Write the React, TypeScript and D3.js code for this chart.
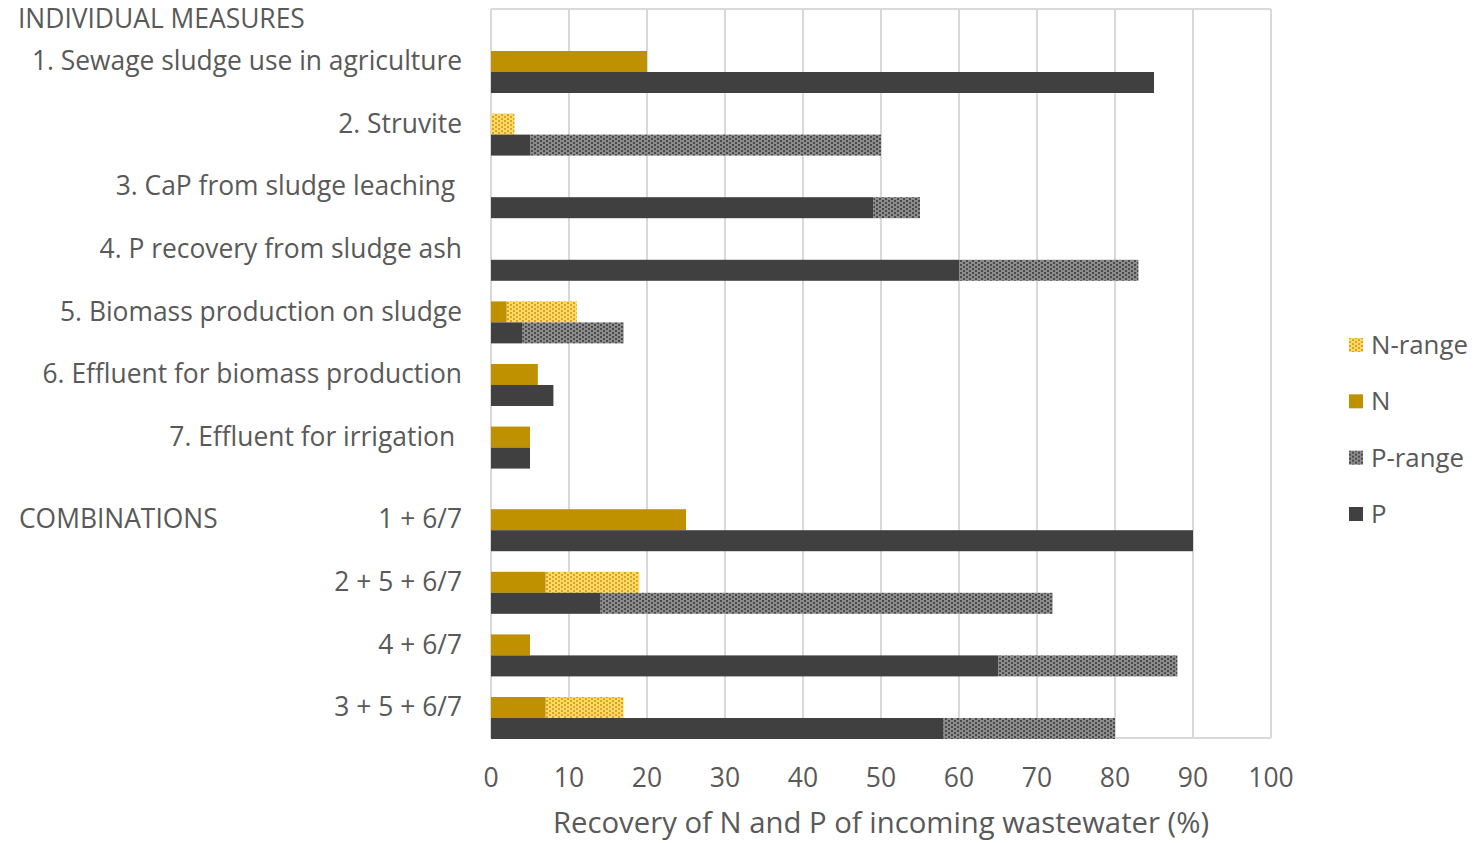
import React, { useEffect, useRef } from "react";
import * as d3 from "d3";

// categories, top to bottom
const individual = [
  "1. Sewage sludge use in agriculture",
  "2. Struvite",
  "3. CaP from sludge leaching ",
  "4. P recovery from sludge ash",
  "5. Biomass production on sludge",
  "6. Effluent for biomass production",
  "7. Effluent for irrigation ",
];
const combinations = ["1 + 6/7", "2 + 5 + 6/7", "4 + 6/7", "3 + 5 + 6/7"];

// values in % (null = no bar)
const nValues = [20, 0, null, null, 2, 6, 5, 25, 7, 5, 7];
const nMax = [null, 3, null, null, 11, null, null, null, 19, null, 17];
const pValues = [85, 5, 49, 60, 4, 8, 5, 90, 14, 65, 58];
const pMax = [null, 50, 55, 83, 17, null, null, null, 72, 88, 80];

const xTicks = [0, 10, 20, 30, 40, 50, 60, 70, 80, 90, 100];
const legendItems = ["N-range", "N", "P-range", "P"];

const App = () => {
  const svgRef = useRef();

  useEffect(() => {
    document.body.style.margin = "0";
    const width = 1473;
    const height = 843;
    const left = 491, right = 1271, top = 9, bottom = 738;
    const font = "'Open Sans', sans-serif";
    const textColor = "#595959";

    const svg = d3.select(svgRef.current)
      .attr("width", width)
      .attr("height", height)
      .style("display", "block");
    svg.selectAll("*").remove();

    const defs = svg.append("defs");
    const makePattern = (id, bg, dot) => {
      const p = defs.append("pattern")
        .attr("id", id)
        .attr("patternUnits", "userSpaceOnUse")
        .attr("width", 6)
        .attr("height", 4);
      p.append("rect").attr("width", 6).attr("height", 4).attr("fill", bg);
      p.append("rect").attr("x", 0).attr("y", 0).attr("width", 2).attr("height", 2).attr("fill", dot);
      p.append("rect").attr("x", 3).attr("y", 2).attr("width", 2).attr("height", 2).attr("fill", dot);
    };
    makePattern("nRange", "#FFD966", "#D9A520");
    makePattern("pRange", "#8C8C8C", "#4A4A4A");

    const x = d3.scaleLinear().domain([0, 100]).range([left, right]);

    // row centre: individual rows, then a small gap before combinations
    const rowY = d3.scaleLinear().domain([0, 10.32]).range([72, 718]);
    const slot = i => (i < individual.length ? i : i + 0.32);
    const barH = 21;

    // gridlines + frame
    svg.append("g")
      .selectAll("line")
      .data(xTicks)
      .join("line")
      .attr("x1", d => x(d))
      .attr("x2", d => x(d))
      .attr("y1", top)
      .attr("y2", bottom)
      .attr("stroke", "#D9D9D9")
      .attr("stroke-width", 2);
    svg.append("line")
      .attr("x1", left).attr("x2", right)
      .attr("y1", top).attr("y2", top)
      .attr("stroke", "#D9D9D9").attr("stroke-width", 2);
    svg.append("line")
      .attr("x1", left).attr("x2", right)
      .attr("y1", bottom).attr("y2", bottom)
      .attr("stroke", "#D9D9D9").attr("stroke-width", 2);

    const bars = svg.append("g");
    const drawBar = (x0, x1, y, fill) => {
      bars.append("rect")
        .attr("x", x(x0))
        .attr("y", y)
        .attr("width", Math.max(0, x(x1) - x(x0)))
        .attr("height", barH)
        .attr("fill", fill);
    };

    nValues.forEach((n, i) => {
      const c = rowY(slot(i));
      if (nMax[i] != null) drawBar(n || 0, nMax[i], c - barH, "url(#nRange)");
      if (n) drawBar(0, n, c - barH, "#BF9000");
      if (pMax[i] != null) drawBar(pValues[i], pMax[i], c, "url(#pRange)");
      if (pValues[i]) drawBar(0, pValues[i], c, "#404040");
    });

    // category labels
    const labels = individual.concat(combinations);
    svg.append("g")
      .selectAll("text")
      .data(labels)
      .join("text")
      .attr("x", 462)
      .attr("y", (d, i) => rowY(slot(i)) - 11)
      .attr("dy", "0.35em")
      .attr("text-anchor", "end")
      .style("white-space", "pre")
      .attr("font-family", font)
      .attr("font-size", 26.4)
      .attr("fill", textColor)
      .text(d => d);

    svg.append("text")
      .attr("x", 18).attr("y", 19).attr("dy", "0.35em")
      .attr("font-family", font).attr("font-size", 26.4).attr("fill", textColor)
      .text("INDIVIDUAL MEASURES");
    svg.append("text")
      .attr("x", 19).attr("y", rowY(slot(7)) - 11).attr("dy", "0.35em")
      .attr("font-family", font).attr("font-size", 26.4).attr("fill", textColor)
      .text("COMBINATIONS");

    // x axis tick labels
    svg.append("g")
      .selectAll("text")
      .data(xTicks)
      .join("text")
      .attr("x", d => x(d))
      .attr("y", 778)
      .attr("dy", "0.35em")
      .attr("text-anchor", "middle")
      .attr("font-family", font)
      .attr("font-size", 26.5)
      .attr("fill", textColor)
      .text(d => d);

    svg.append("text")
      .attr("x", 881).attr("y", 823).attr("dy", "0.35em")
      .attr("text-anchor", "middle")
      .attr("font-family", font).attr("font-size", 29.3).attr("fill", textColor)
      .text("Recovery of N and P of incoming wastewater (%)");

    // legend
    const legendFill = { "N-range": "url(#nRange)", N: "#BF9000", "P-range": "url(#pRange)", P: "#404040" };
    const ly = d3.scalePoint().domain(legendItems).range([345, 514]);
    const lg = svg.append("g")
      .selectAll("g")
      .data(legendItems)
      .join("g")
      .attr("transform", d => `translate(1349,${ly(d)})`);
    lg.append("rect")
      .attr("x", 0).attr("y", -7)
      .attr("width", 14).attr("height", 14)
      .attr("fill", d => legendFill[d]);
    lg.append("text")
      .attr("x", 22).attr("y", 0).attr("dy", "0.35em")
      .attr("font-family", font).attr("font-size", 25.8).attr("fill", textColor)
      .text(d => d);
  }, []);

  return <svg ref={svgRef}></svg>;
};

export default App;
